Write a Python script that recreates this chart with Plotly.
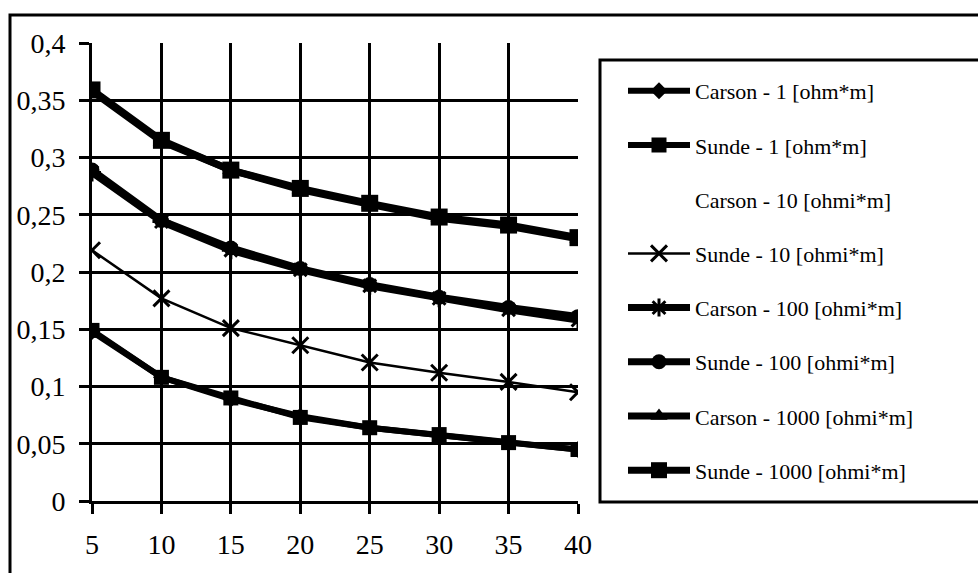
import plotly.graph_objects as go

x_vals = [5, 10, 15, 20, 25, 30, 35, 40]

carson_1 = [0.148, 0.108, 0.089, 0.074, 0.064, 0.057, 0.051, 0.045]
sunde_1 = [0.149, 0.108, 0.090, 0.073, 0.064, 0.058, 0.051, 0.045]
carson_10 = [0.219, 0.177, 0.151, 0.136, 0.121, 0.112, 0.104, 0.095]
sunde_10 = [0.219, 0.177, 0.151, 0.136, 0.121, 0.112, 0.104, 0.095]
carson_100 = [0.287, 0.244, 0.219, 0.202, 0.188, 0.177, 0.167, 0.158]
sunde_100 = [0.289, 0.245, 0.221, 0.203, 0.189, 0.178, 0.169, 0.161]
carson_1000 = [0.358, 0.314, 0.289, 0.272, 0.259, 0.247, 0.240, 0.229]
sunde_1000 = [0.359, 0.315, 0.289, 0.273, 0.260, 0.248, 0.241, 0.230]

y_tickvals = [0, 0.05, 0.1, 0.15, 0.2, 0.25, 0.3, 0.35, 0.4]
y_ticktext = ["0", "0,05", "0,1", "0,15", "0,2", "0,25", "0,3", "0,35", "0,4"]

series = [
    ("Carson - 1 [ohm*m]", carson_1, "diamond", 13, 6, True),
    ("Sunde - 1 [ohm*m]", sunde_1, "square", 15, 6, True),
    ("Carson - 10 [ohmi*m]", carson_10, None, 0, 0, False),
    ("Sunde - 10 [ohmi*m]", sunde_10, "x-thin-open", 16, 2.5, True),
    ("Carson - 100 [ohmi*m]", carson_100, "asterisk-open", 15, 7, True),
    ("Sunde - 100 [ohmi*m]", sunde_100, "circle", 15, 7, True),
    ("Carson - 1000 [ohmi*m]", carson_1000, "triangle-up", 15, 7, True),
    ("Sunde - 1000 [ohmi*m]", sunde_1000, "square", 17, 7, True),
]

FONT = "Liberation Serif"
W, H = 978, 573
L, R, T, B = 92, 400, 43, 72
pw, ph = W - L - R, H - T - B


def px(xp):
    return (xp - L) / pw


def py(yp):
    return (H - B - yp) / ph


fig = go.Figure()
for i, (name, vals, sym, msize, lw, visible) in enumerate(series):
    if not visible:
        fig.add_trace(go.Scatter(
            x=x_vals, y=vals, name=name, mode="lines",
            line=dict(color="rgba(0,0,0,0)", width=1),
            legendgroup=f"g{i}", hoverinfo="skip"))
        continue
    mline = dict(color="black", width=3) if sym in ("x-thin-open", "asterisk-open") else dict(width=0)
    fig.add_trace(go.Scatter(
        x=x_vals, y=vals, name=name, mode="lines+markers",
        line=dict(color="black", width=lw),
        marker=dict(symbol=sym, size=msize, color="black", line=mline),
        legendgroup=f"g{i}"))

fig.update_layout(
    width=W, height=H,
    margin=dict(l=L, r=R, t=T, b=B),
    paper_bgcolor="white", plot_bgcolor="white",
    font=dict(family=FONT, color="black", size=22),
    showlegend=True,
    legend=dict(
        x=px(623), y=py(70), xanchor="left", yanchor="top",
        bgcolor="rgba(0,0,0,0)", borderwidth=0,
        font=dict(family=FONT, size=22, color="black"),
        tracegroupgap=22.6, itemwidth=62,
    ),
    xaxis=dict(
        range=[5, 40], tickvals=x_vals, ticktext=[str(v) for v in x_vals],
        showgrid=True, gridcolor="black", gridwidth=3,
        showline=True, linecolor="black", linewidth=3,
        ticks="outside", ticklen=10, tickwidth=3, tickcolor="black",
        tickfont=dict(family=FONT, size=28, color="black"),
        zeroline=False, ticklabelstandoff=6,
    ),
    yaxis=dict(
        range=[0, 0.4], tickvals=y_tickvals, ticktext=y_ticktext,
        showgrid=True, gridcolor="black", gridwidth=3,
        showline=True, linecolor="black", linewidth=3,
        ticks="outside", ticklen=10, tickwidth=3, tickcolor="black",
        tickfont=dict(family=FONT, size=28, color="black"),
        zeroline=False, ticklabelstandoff=8,
    ),
    shapes=[
        dict(type="rect", xref="paper", yref="paper",
             x0=px(10), x1=px(990), y0=py(585), y1=py(15),
             line=dict(color="black", width=3), fillcolor="rgba(0,0,0,0)",
             layer="below"),
        dict(type="rect", xref="paper", yref="paper",
             x0=px(600), x1=px(990), y0=py(502), y1=py(60),
             line=dict(color="black", width=3), fillcolor="rgba(0,0,0,0)",
             layer="below"),
    ],
)

fig.write_html("out.html")
